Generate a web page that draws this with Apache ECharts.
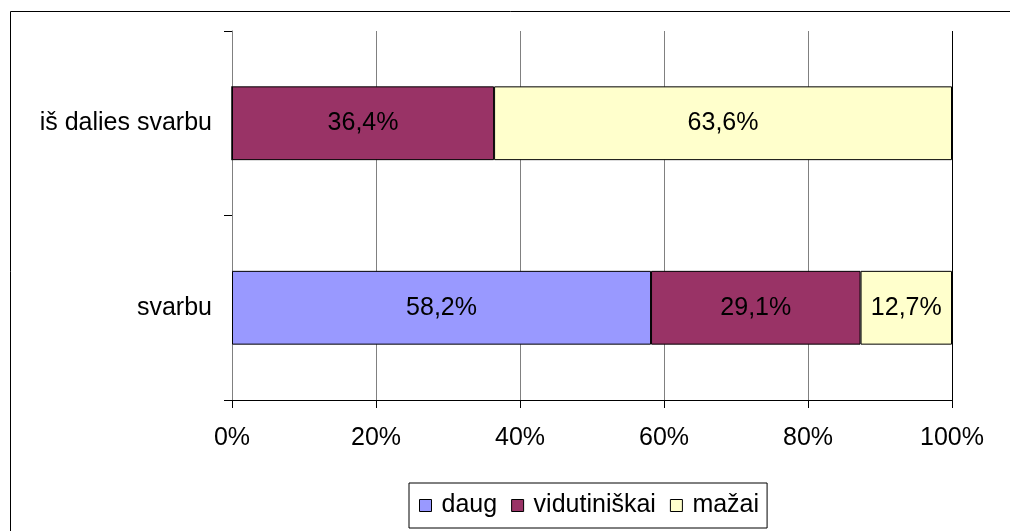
<!DOCTYPE html>
<html>
<head>
<meta charset="utf-8">
<script src="https://cdn.jsdelivr.net/npm/echarts@6/dist/echarts.min.js"></script>
<style>
  html, body { margin: 0; padding: 0; background: #fff; }
  #chart { width: 1010px; height: 531px; }
</style>
</head>
<body>
<div id="chart"></div>
<script>
// Categories, bottom to top
const categories = ['svarbu', 'iš dalies svarbu'];
// Shares per answer, in percent
const daug = [58.2, 0];
const vidutiniskai = [29.1, 36.4];
const mazai = [12.7, 63.6];
const seriesNames = ['daug', 'vidutiniškai', 'mažai'];
const seriesColors = ['#9999FF', '#993366', '#FFFFCC'];
const xTicks = [0, 20, 40, 60, 80, 100];

const FONT = 'Liberation Sans, Arial, sans-serif';
const FS = 25;
const fmt = v => v.toFixed(1).replace('.', ',') + '%';

function makeSeries(name, data, color) {
  return {
    name: name,
    type: 'bar',
    stack: 'total',
    barWidth: '40%',
    data: data,
    itemStyle: { color: color, borderColor: '#000', borderWidth: 1 },
    label: {
      show: true,
      position: 'inside',
      color: '#000',
      fontFamily: FONT,
      fontSize: FS,
      formatter: p => (p.value > 0 ? fmt(p.value) : '')
    },
    emphasis: { disabled: true }
  };
}

const chart = echarts.init(document.getElementById('chart'), null, { renderer: 'canvas' });
chart.setOption({
  animation: false,
  backgroundColor: '#fff',
  graphic: [{
    type: 'rect',
    shape: { x: 10.5, y: 11.5, width: 1010, height: 530 },
    style: { fill: 'none', stroke: '#000', lineWidth: 1 },
    z: 100
  }],
  grid: { left: 232, right: 58, top: 31, bottom: 131, containLabel: false },
  xAxis: {
    type: 'value',
    min: 0,
    max: 100,
    interval: 20,
    axisLine: { show: true, lineStyle: { color: '#000', width: 1 } },
    axisTick: { show: true, length: 8, lineStyle: { color: '#000' } },
    axisLabel: {
      color: '#000',
      fontFamily: FONT,
      fontSize: FS,
      margin: 26,
      formatter: v => (xTicks.includes(v) ? v + '%' : '')
    },
    splitLine: {
      show: true,
      lineStyle: { color: ['#808080', '#808080', '#808080', '#808080', '#808080', '#000'], width: 1 }
    }
  },
  yAxis: {
    type: 'category',
    data: categories,
    boundaryGap: true,
    axisLine: { show: true, lineStyle: { color: '#808080', width: 1 } },
    axisTick: { show: true, length: 8, lineStyle: { color: '#000' } },
    axisLabel: { color: '#000', fontFamily: FONT, fontSize: FS, margin: 20 },
    splitLine: { show: false }
  },
  legend: {
    data: seriesNames,
    left: 409,
    top: 483,
    orient: 'horizontal',
    icon: 'rect',
    itemWidth: 12,
    itemHeight: 12,
    itemGap: 14,
    padding: [10, 8, 10, 10],
    borderColor: '#000',
    borderWidth: 1,
    backgroundColor: '#fff',
    selectedMode: false,
    itemStyle: { borderColor: '#000', borderWidth: 1 },
    textStyle: { color: '#000', fontFamily: FONT, fontSize: FS, padding: [0, 0, 0, 5] }
  },
  series: [
    makeSeries(seriesNames[0], daug, seriesColors[0]),
    makeSeries(seriesNames[1], vidutiniskai, seriesColors[1]),
    makeSeries(seriesNames[2], mazai, seriesColors[2])
  ]
});
</script>
</body>
</html>
